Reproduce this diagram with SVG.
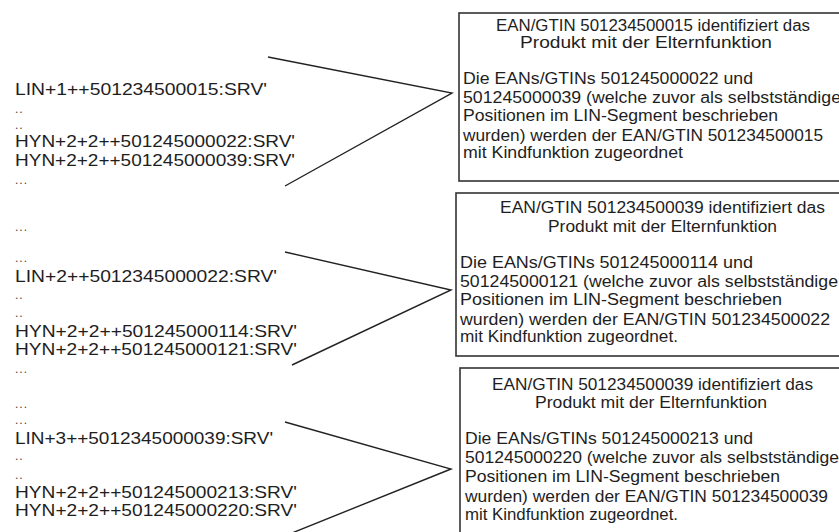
<svg xmlns="http://www.w3.org/2000/svg" width="839" height="532" viewBox="0 0 839 532">
<style>
.bg{fill:#ffffff}
.box{fill:#ffffff;stroke:#333333;stroke-width:1.6}
.t{font-family:"Liberation Sans",Arial,sans-serif;font-size:16px;fill:#1e1e1e}
.s{font-family:"Liberation Sans",Arial,sans-serif;font-size:17px;fill:#1e1e1e}
.d{font-family:"Liberation Sans",Arial,sans-serif;font-size:12px;fill:#444444;letter-spacing:1px}
.c{fill:none;stroke:#222222;stroke-width:1.4;stroke-linejoin:miter}
</style>
<rect class="bg" x="0" y="0" width="839" height="532"/>
<g id="segments1">
<text class="s" x="15" y="95" textLength="252" lengthAdjust="spacingAndGlyphs">LIN+1++501234500015:SRV'</text>
<text class="d" x="15" y="113">..</text>
<text class="d" x="15" y="129">..</text>
<text class="s" x="15" y="147" textLength="280" lengthAdjust="spacingAndGlyphs">HYN+2+2++501245000022:SRV'</text>
<text class="s" x="15" y="166" textLength="280" lengthAdjust="spacingAndGlyphs">HYN+2+2++501245000039:SRV'</text>
<text class="d" x="15" y="184">...</text>
</g>
<g id="segments2">
<text class="d" x="15" y="231">...</text>
<text class="d" x="15" y="262">...</text>
<text class="s" x="15" y="282" textLength="262" lengthAdjust="spacingAndGlyphs">LIN+2++5012345000022:SRV'</text>
<text class="d" x="15" y="299">..</text>
<text class="d" x="15" y="317">..</text>
<text class="s" x="15" y="337" textLength="282" lengthAdjust="spacingAndGlyphs">HYN+2+2++501245000114:SRV'</text>
<text class="s" x="15" y="355" textLength="282" lengthAdjust="spacingAndGlyphs">HYN+2+2++501245000121:SRV'</text>
<text class="d" x="15" y="373">...</text>
</g>
<g id="segments3">
<text class="d" x="15" y="408">...</text>
<text class="d" x="15" y="424">...</text>
<text class="s" x="15" y="444" textLength="258" lengthAdjust="spacingAndGlyphs">LIN+3++5012345000039:SRV'</text>
<text class="d" x="15" y="460">..</text>
<text class="d" x="15" y="479">..</text>
<text class="s" x="15" y="498" textLength="282" lengthAdjust="spacingAndGlyphs">HYN+2+2++501245000213:SRV'</text>
<text class="s" x="15" y="516" textLength="282" lengthAdjust="spacingAndGlyphs">HYN+2+2++501245000220:SRV'</text>
</g>
<g id="connectors">
<polyline class="c" points="268,57 452,93 285,186"/>
<polyline class="c" points="285,252 451,290 292,365"/>
<polyline class="c" points="285,422 451,469 287,535"/>
</g>
<g id="box1">
<rect class="box" x="459" y="13" width="390" height="168"/>
<text class="t" x="496" y="31" textLength="314" lengthAdjust="spacingAndGlyphs">EAN/GTIN 501234500015 identifiziert das</text>
<text class="t" x="520" y="48" textLength="252" lengthAdjust="spacingAndGlyphs">Produkt mit der Elternfunktion</text>
<text class="t" x="463" y="84" textLength="290" lengthAdjust="spacingAndGlyphs">Die EANs/GTINs 501245000022 und</text>
<text class="t" x="463" y="103" textLength="378" lengthAdjust="spacingAndGlyphs">501245000039 (welche zuvor als selbstständige</text>
<text class="t" x="463" y="121" textLength="315" lengthAdjust="spacingAndGlyphs">Positionen im LIN-Segment beschrieben</text>
<text class="t" x="463" y="141" textLength="360" lengthAdjust="spacingAndGlyphs">wurden) werden der EAN/GTIN 501234500015</text>
<text class="t" x="463" y="158" textLength="220" lengthAdjust="spacingAndGlyphs">mit Kindfunktion zugeordnet</text>
</g>
<g id="box2">
<rect class="box" x="456" y="193" width="393" height="163"/>
<text class="t" x="500" y="213" textLength="325" lengthAdjust="spacingAndGlyphs">EAN/GTIN 501234500039 identifiziert das</text>
<text class="t" x="548" y="232" textLength="229" lengthAdjust="spacingAndGlyphs">Produkt mit der Elternfunktion</text>
<text class="t" x="460" y="268" textLength="293" lengthAdjust="spacingAndGlyphs">Die EANs/GTINs 501245000114 und</text>
<text class="t" x="460" y="287" textLength="378" lengthAdjust="spacingAndGlyphs">501245000121 (welche zuvor als selbstständige</text>
<text class="t" x="460" y="305" textLength="322" lengthAdjust="spacingAndGlyphs">Positionen im LIN-Segment beschrieben</text>
<text class="t" x="460" y="325" textLength="370" lengthAdjust="spacingAndGlyphs">wurden) werden der EAN/GTIN 501234500022</text>
<text class="t" x="460" y="342" textLength="218" lengthAdjust="spacingAndGlyphs">mit Kindfunktion zugeordnet.</text>
</g>
<g id="box3">
<rect class="box" x="460" y="368" width="389" height="180"/>
<text class="t" x="492" y="390" textLength="321" lengthAdjust="spacingAndGlyphs">EAN/GTIN 501234500039 identifiziert das</text>
<text class="t" x="535" y="408" textLength="232" lengthAdjust="spacingAndGlyphs">Produkt mit der Elternfunktion</text>
<text class="t" x="465" y="444" textLength="288" lengthAdjust="spacingAndGlyphs">Die EANs/GTINs 501245000213 und</text>
<text class="t" x="465" y="463" textLength="374" lengthAdjust="spacingAndGlyphs">501245000220 (welche zuvor als selbstständige</text>
<text class="t" x="465" y="482" textLength="315" lengthAdjust="spacingAndGlyphs">Positionen im LIN-Segment beschrieben</text>
<text class="t" x="465" y="502" textLength="363" lengthAdjust="spacingAndGlyphs">wurden) werden der EAN/GTIN 501234500039</text>
<text class="t" x="465" y="520" textLength="213" lengthAdjust="spacingAndGlyphs">mit Kindfunktion zugeordnet.</text>
</g>
</svg>
